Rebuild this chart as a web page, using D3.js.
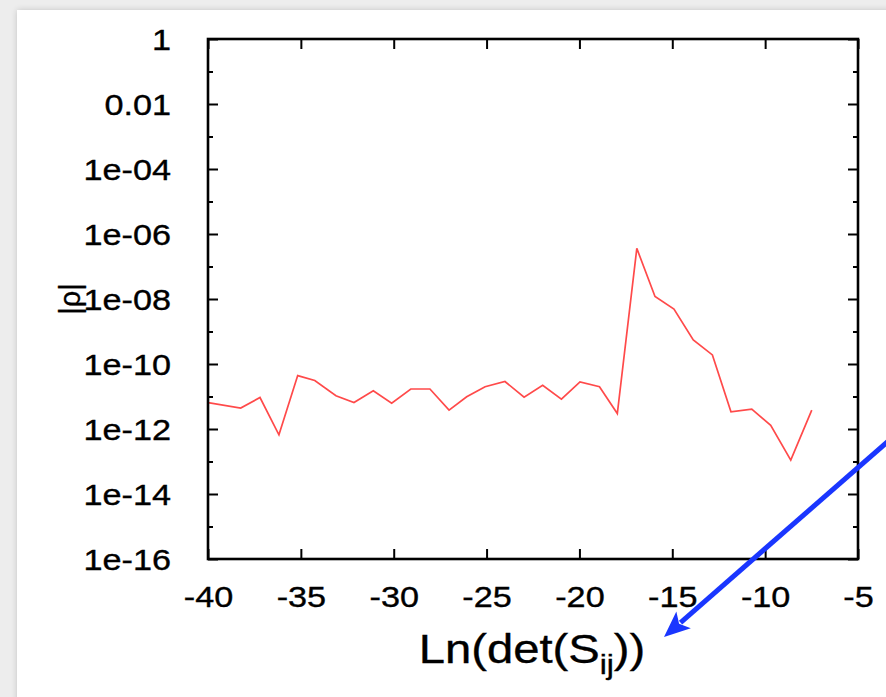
<!DOCTYPE html>
<html>
<head>
<meta charset="utf-8">
<script src="https://cdn.jsdelivr.net/npm/d3@7/dist/d3.min.js"></script>
<style>
  html, body { margin: 0; padding: 0; background: #ededed; }
  svg { display: block; }
  text { font-family: "Liberation Sans", Arial, Helvetica, sans-serif; fill: #000; stroke: #000; stroke-width: 0.35px; }
</style>
</head>
<body>
<svg id="chart" width="886" height="697"></svg>
<script>
// |rho| against Ln(det(S_ij))
const lnDet = [-40.0, -38.24, -37.2, -36.18, -35.17, -34.25, -33.11, -32.14, -31.1, -30.11,
               -29.08, -28.05, -27.02, -26.07, -25.08, -24.01, -22.98, -21.98, -20.97, -19.97,
               -18.92, -17.96, -16.91, -15.93, -14.91, -13.87, -12.84, -11.84, -10.72, -9.70,
               -8.62, -7.49];
const rhoAbs = [6.5e-12, 4.4e-12, 9.3e-12, 6.6e-13, 4.4e-11, 3.1e-11, 1.05e-11, 6.5e-12, 1.5e-11, 6.2e-12,
                1.7e-11, 1.7e-11, 3.8e-12, 9.8e-12, 2.0e-11, 2.9e-11, 9.5e-12, 2.2e-11, 8.3e-12, 2.8e-11,
                2.0e-11, 3.0e-12, 3.6e-7, 1.2e-8, 4.9e-9, 5.5e-10, 1.9e-10, 3.4e-12, 4.1e-12, 1.3e-12,
                1.1e-13, 3.8e-12];

const xTicks = [-40, -35, -30, -25, -20, -15, -10, -5];
const xTickLabels = ["-40", "-35", "-30", "-25", "-20", "-15", "-10", "-5"];
const yMajorTicks = [1, 1e-2, 1e-4, 1e-6, 1e-8, 1e-10, 1e-12, 1e-14, 1e-16];
const yMajorLabels = ["1", "0.01", "1e-04", "1e-06", "1e-08", "1e-10", "1e-12", "1e-14", "1e-16"];
const yMinorTicks = [1e-1, 1e-3, 1e-5, 1e-7, 1e-9, 1e-11, 1e-13, 1e-15];

const svg = d3.select("#chart");
const W = 886, H = 697;
const plot = { left: 208, right: 858, top: 39, bottom: 559 };
const stretch = 1.18; // glyphs are drawn a little wide

// page background and white panel
const defs = svg.append("defs");
const sh = defs.append("filter").attr("id", "panelShadow")
  .attr("x", "-5%").attr("y", "-5%").attr("width", "110%").attr("height", "110%");
sh.append("feGaussianBlur").attr("in", "SourceAlpha").attr("stdDeviation", 3).attr("result", "b");
sh.append("feComponentTransfer").attr("in", "b").attr("result", "s")
  .append("feFuncA").attr("type", "linear").attr("slope", 0.18);
const m = sh.append("feMerge");
m.append("feMergeNode").attr("in", "s");
m.append("feMergeNode").attr("in", "SourceGraphic");

svg.append("rect").attr("width", W).attr("height", H).attr("fill", "#ededed");
svg.append("rect").attr("x", 17).attr("y", 10).attr("width", W + 40).attr("height", H + 40)
  .attr("fill", "#ffffff").attr("filter", "url(#panelShadow)");

const x = d3.scaleLinear().domain([-40, -5]).range([plot.left, plot.right]);
const y = d3.scaleLog().domain([1e-16, 1]).range([plot.bottom, plot.top]);

defs.append("clipPath").attr("id", "plotClip").append("rect")
  .attr("x", plot.left).attr("y", plot.top)
  .attr("width", plot.right - plot.left).attr("height", plot.bottom - plot.top);

// data line
const line = d3.line().x((d, i) => x(lnDet[i])).y(d => y(d));
svg.append("path")
  .datum(rhoAbs)
  .attr("clip-path", "url(#plotClip)")
  .attr("d", line)
  .attr("fill", "none")
  .attr("stroke", "#ff4a4a")
  .attr("stroke-width", 1.7)
  .attr("stroke-linejoin", "miter");

function styleAxis(g) {
  g.select(".domain").remove();
  g.selectAll(".tick line").attr("stroke", "#000").attr("stroke-width", 2);
}

// left axis: labelled decades
const gLeft = svg.append("g").attr("transform", `translate(${plot.left},0)`)
  .call(d3.axisLeft(y).tickValues(yMajorTicks)
    .tickFormat((d, i) => yMajorLabels[i]).tickSize(-10).tickPadding(37 / stretch));
styleAxis(gLeft);
gLeft.selectAll(".tick text")
  .attr("font-family", "Liberation Sans, Arial, sans-serif")
  .attr("font-size", 29).attr("dy", "0.36em")
  .attr("transform", `scale(${stretch},1)`);

svg.append("g").attr("transform", `translate(${plot.left},0)`)
  .call(d3.axisLeft(y).tickValues(yMinorTicks).tickFormat("").tickSize(-5))
  .call(styleAxis);

// right axis mirrors the ticks
svg.append("g").attr("transform", `translate(${plot.right},0)`)
  .call(d3.axisRight(y).tickValues(yMajorTicks).tickFormat("").tickSize(-10))
  .call(styleAxis);
svg.append("g").attr("transform", `translate(${plot.right},0)`)
  .call(d3.axisRight(y).tickValues(yMinorTicks).tickFormat("").tickSize(-5))
  .call(styleAxis);

// bottom axis
const gBottom = svg.append("g").attr("transform", `translate(0,${plot.bottom})`)
  .call(d3.axisBottom(x).tickValues(xTicks).tickFormat((d, i) => xTickLabels[i])
    .tickSize(-10).tickPadding(27));
styleAxis(gBottom);
gBottom.selectAll(".tick text")
  .attr("font-family", "Liberation Sans, Arial, sans-serif")
  .attr("font-size", 29).attr("dy", "0.71em")
  .attr("transform", `scale(${stretch},1)`);

// top axis
svg.append("g").attr("transform", `translate(0,${plot.top})`)
  .call(d3.axisTop(x).tickValues(xTicks).tickFormat("").tickSize(-10))
  .call(styleAxis);

// frame
svg.append("rect")
  .attr("x", plot.left).attr("y", plot.top)
  .attr("width", plot.right - plot.left).attr("height", plot.bottom - plot.top)
  .attr("fill", "none").attr("stroke", "#000").attr("stroke-width", 2.6);

// axis titles
const xTitle = svg.append("text")
  .attr("transform", `translate(${(plot.left + plot.right) / 2 - 1},663) scale(${stretch},1)`)
  .attr("text-anchor", "middle")
  .attr("font-size", 40);
xTitle.append("tspan").text("Ln(det(S");
xTitle.append("tspan").attr("font-size", 27).attr("dy", 11).text("ij");
xTitle.append("tspan").attr("dy", -11).text("))");

svg.append("text")
  .attr("transform", `translate(80,${(plot.top + plot.bottom) / 2}) rotate(-90)`)
  .attr("text-anchor", "middle")
  .attr("font-size", 29)
  .text("|ρ|");

// annotation arrow pointing at the x-axis title
const tip = [664, 637], tail = [905, 426.5];
const ang = Math.atan2(tip[1] - tail[1], tip[0] - tail[0]);
const headLen = 26, headHalf = 11;
const base = [tip[0] - headLen * Math.cos(ang), tip[1] - headLen * Math.sin(ang)];
svg.append("line")
  .attr("x1", tail[0]).attr("y1", tail[1])
  .attr("x2", base[0] + 4 * Math.cos(ang)).attr("y2", base[1] + 4 * Math.sin(ang))
  .attr("stroke", "#1a36ff").attr("stroke-width", 5);
const px = -Math.sin(ang), py = Math.cos(ang);
svg.append("polygon")
  .attr("points", [
    tip,
    [base[0] + headHalf * px, base[1] + headHalf * py],
    [base[0] + 6 * Math.cos(ang), base[1] + 6 * Math.sin(ang)],
    [base[0] - headHalf * px, base[1] - headHalf * py]
  ].map(p => p.join(",")).join(" "))
  .attr("fill", "#1a36ff");
</script>
</body>
</html>
